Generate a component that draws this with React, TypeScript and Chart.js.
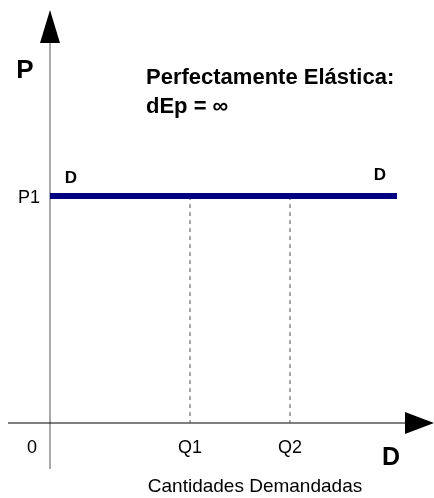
import React, { useEffect, useRef } from "react";
import { Chart, registerables } from "chart.js";

Chart.register(...registerables);

// ---- data ----
const priceLevel = 10; // P1
const quantities = [7, 12]; // Q1, Q2
const quantityLabels = ["Q1", "Q2"];
const demandRange = [0, 17.35]; // horizontal demand curve extent
const xTickLabels = ["0", ...quantityLabels];
const yTickLabels = ["P1"];
const curveLabels = ["D", "D"];
const titleLines = ["Perfectamente Elástica:", "dEp = ∞"];
const xAxisTitle = "Cantidades Demandadas";
const axisLetters = ["P", "D"];

const X_MAX = 19.2;
const Y_MAX = 18.2;
const FONT = "'Liberation Sans', Arial, Helvetica, sans-serif";

const overlay = {
  id: "overlay",
  beforeDatasetsDraw(chart: any) {
    const { ctx } = chart;
    const xs = chart.scales.x;
    const ys = chart.scales.y;
    const x0 = xs.getPixelForValue(0);
    const y0 = ys.getPixelForValue(0);
    const yTop = ys.getPixelForValue(Y_MAX);
    const xRight = xs.getPixelForValue(X_MAX);
    ctx.save();
    // Y axis
    ctx.strokeStyle = "#707070";
    ctx.lineWidth = 1.2;
    ctx.beginPath();
    ctx.moveTo(x0, yTop + 30);
    ctx.lineTo(x0, ys.getPixelForValue(-2.03));
    ctx.stroke();
    // Y arrow
    ctx.fillStyle = "#000";
    ctx.beginPath();
    ctx.moveTo(x0, yTop);
    ctx.lineTo(x0 - 10, yTop + 33);
    ctx.lineTo(x0 + 10, yTop + 33);
    ctx.closePath();
    ctx.fill();
    // X axis
    ctx.strokeStyle = "#000";
    ctx.lineWidth = 1.2;
    ctx.beginPath();
    ctx.moveTo(8, y0);
    ctx.lineTo(xRight - 26, y0);
    ctx.stroke();
    // X arrow
    ctx.beginPath();
    ctx.moveTo(xRight, y0);
    ctx.lineTo(xRight - 29, y0 - 11);
    ctx.lineTo(xRight - 29, y0 + 11);
    ctx.closePath();
    ctx.fill();
    ctx.restore();
  },
  afterDraw(chart: any) {
    const { ctx } = chart;
    const xs = chart.scales.x;
    const ys = chart.scales.y;
    const x0 = xs.getPixelForValue(0);
    const y0 = ys.getPixelForValue(0);
    const yP = ys.getPixelForValue(priceLevel);
    ctx.save();
    ctx.fillStyle = "#000";
    ctx.textBaseline = "middle";

    // x tick labels
    ctx.font = `18px ${FONT}`;
    ctx.textAlign = "center";
    const xTickVals = [0, ...quantities];
    xTickLabels.forEach((lab, i) => {
      const px = i === 0 ? x0 - 18 : xs.getPixelForValue(xTickVals[i]);
      ctx.fillText(lab, px, y0 + 25);
    });
    // y tick label
    ctx.textAlign = "right";
    ctx.fillText(yTickLabels[0], x0 - 10, yP + 2);

    // x axis title
    ctx.font = `19px ${FONT}`;
    ctx.textAlign = "center";
    ctx.fillText(xAxisTitle, 255, y0 + 64);

    // big axis letters
    ctx.font = `bold 26px ${FONT}`;
    ctx.fillText(axisLetters[0], 25, 71);
    ctx.font = `bold 25px ${FONT}`;
    ctx.fillText(axisLetters[1], 391, y0 + 35);

    // curve labels
    ctx.font = `bold 17px ${FONT}`;
    ctx.fillText(curveLabels[0], xs.getPixelForValue(demandRange[0]) + 21, yP - 18);
    ctx.fillText(curveLabels[1], xs.getPixelForValue(demandRange[1]) - 17, yP - 21);

    // title
    ctx.font = `bold 22px ${FONT}`;
    ctx.textAlign = "left";
    ctx.textBaseline = "alphabetic";
    ctx.fillText(titleLines[0], 146, 84);
    ctx.fillText(titleLines[1], 146, 113);
    ctx.restore();
  },
};

export default function App() {
  const ref = useRef<HTMLCanvasElement | null>(null);
  useEffect(() => {
    document.body.style.margin = "0";
    if (!ref.current) return;
    const datasets: any[] = [
      {
        label: "Demanda",
        data: demandRange.map((x) => ({ x, y: priceLevel })),
        borderColor: "#000080",
        borderWidth: 6,
        borderCapStyle: "butt",
        pointRadius: 0,
        showLine: true,
      },
      ...quantities.map((q, i) => ({
        label: quantityLabels[i],
        data: [
          { x: q, y: priceLevel },
          { x: q, y: -0.4 },
        ],
        borderColor: "#555555",
        borderWidth: 1,
        borderDash: [4, 4],
        pointRadius: 0,
        showLine: true,
      })),
    ];
    const chart = new Chart(ref.current, {
      type: "scatter",
      data: { datasets },
      options: {
        animation: false,
        responsive: false,
        layout: { padding: { left: 50, top: 10, right: 0, bottom: 75 } },
        plugins: { legend: { display: false }, tooltip: { enabled: false } },
        scales: {
          x: { type: "linear", min: 0, max: X_MAX, display: false },
          y: { type: "linear", min: 0, max: Y_MAX, display: false },
        },
      },
      plugins: [overlay],
    });
    return () => chart.destroy();
  }, []);
  return (
    <div style={{ width: 434, height: 498, background: "#fff" }}>
      <canvas ref={ref} width={434} height={498} style={{ display: "block" }} />
    </div>
  );
}
